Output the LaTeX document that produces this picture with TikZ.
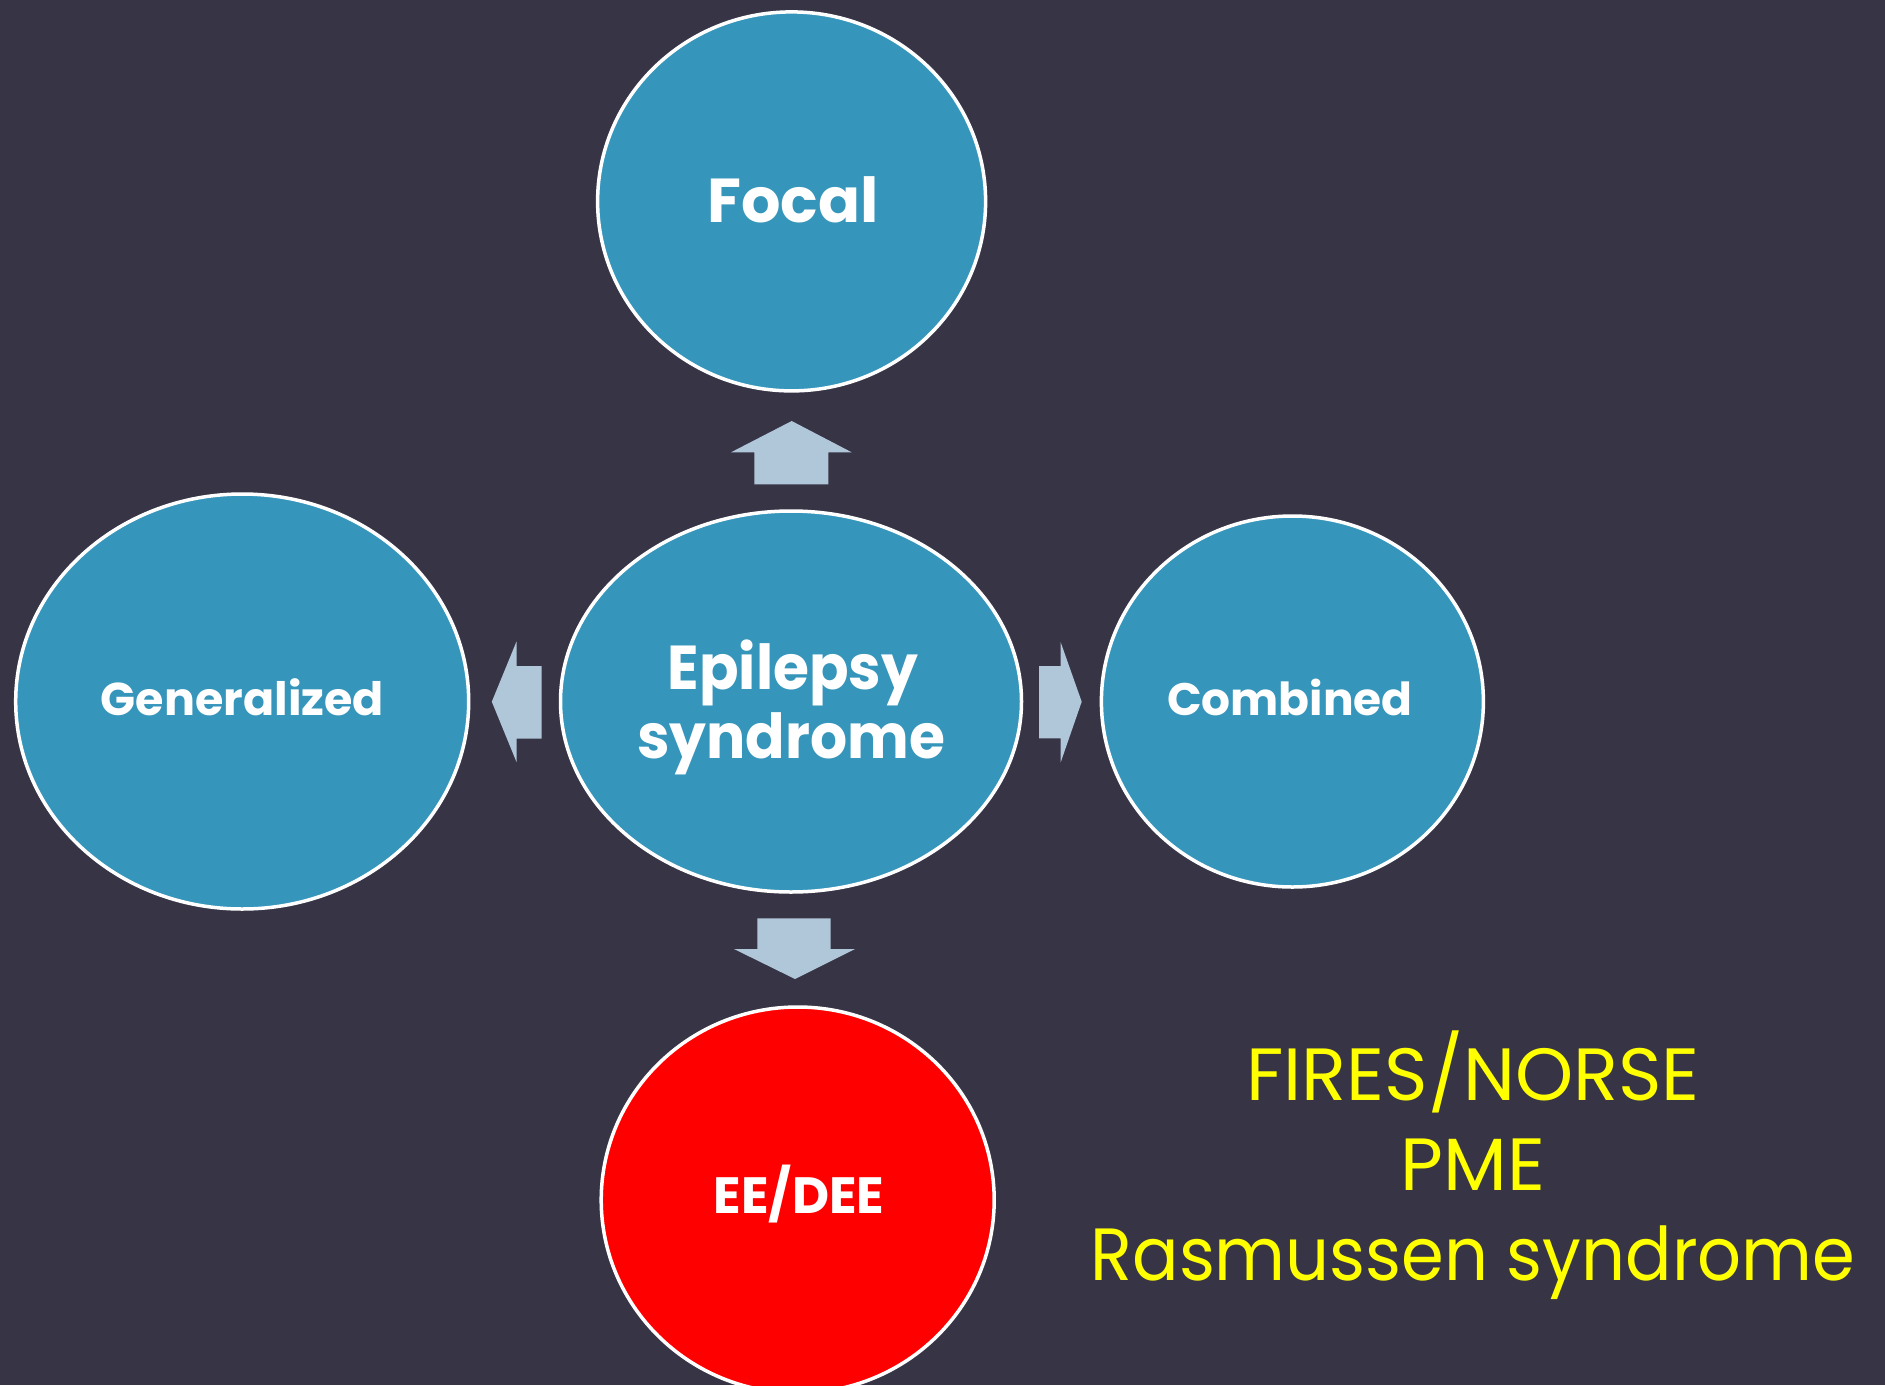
\documentclass[tikz,border=0pt]{standalone}
\usepackage{fontspec}
\setmainfont{Poppins}
\usetikzlibrary{shapes.geometric}
\definecolor{bgdark}{RGB}{55,52,70}
\definecolor{bubblefill}{RGB}{54,149,187}
\definecolor{arrowfill}{RGB}{175,199,217}
\definecolor{hotred}{RGB}{255,0,0}
\definecolor{noteyellow}{RGB}{255,255,0}
\tikzset{
  bubble/.style={ellipse, draw=white, line width=3.5pt, fill=bubblefill, inner sep=0pt},
  blockarrow/.style={fill=arrowfill, draw=none},
  lbl/.style={anchor=base, text=white, inner sep=0pt, font=\bfseries},
  note/.style={anchor=base, text=noteyellow, inner sep=0pt, font=\fontsize{74}{78}\selectfont},
}
\begin{document}
\begin{tikzpicture}[x=1pt, y=-1pt]
  % canvas
  \fill[bgdark] (0,0) rectangle (1885,1385);
  \useasboundingbox (0,0) rectangle (1885,1385);

  % bubbles
  \node[bubble, minimum width=388pt, minimum height=379pt] (focal) at (791.6,201.4) {};
  \node[bubble, minimum width=461pt, minimum height=381pt] (epi) at (791,701.5) {};
  \node[bubble, minimum width=453pt, minimum height=415pt] (gen) at (242.2,701.5) {};
  \node[bubble, minimum width=382pt, minimum height=371pt] (comb) at (1292.4,701.5) {};
  \node[bubble, fill=hotred, minimum width=393pt, minimum height=386pt] (ee) at (797.7,1200) {};

  % bubble labels
  \node[lbl, font=\bfseries\fontsize{62}{66}\selectfont] (focaltxt) at (793,222.3) {Focal};
  \node[lbl, font=\bfseries\fontsize{62}{66}\selectfont, xscale=0.94] (epitxtA) at (793,689) {Epilepsy};
  \node[lbl, font=\bfseries\fontsize{62}{66}\selectfont, xscale=0.94] (epitxtB) at (791,758.3) {syndrome};
  \node[lbl, font=\bfseries\fontsize{46}{50}\selectfont] (gentxt) at (242.5,715) {Generalized};
  \node[lbl, font=\bfseries\fontsize{45.5}{50}\selectfont] (combtxt) at (1290,715) {Combined};
  \node[lbl, font=\bfseries\fontsize{51}{54}\selectfont] (eetxt) at (799,1213) {EE/DEE};

  % block arrows from the centre bubble
  \fill[blockarrow] (754.3,484.3) -- (754.3,452.3) -- (731,452.3) -- (791.7,421)
    -- (851.7,452.3) -- (828.3,452.3) -- (828.3,484.3) -- cycle;
  \fill[blockarrow] (757.3,918.3) -- (830.7,918.3) -- (830.7,949) -- (855,949)
    -- (795,979) -- (734,949) -- (757.3,949) -- cycle;
  \fill[blockarrow] (541.5,666) -- (541.5,738.5) -- (516.5,738.5) -- (516.5,762)
    -- (491.8,701.7) -- (516.5,641.5) -- (516.5,666) -- cycle;
  \fill[blockarrow] (1039,666) -- (1060.7,666) -- (1060.7,642.3) -- (1081.7,701.7)
    -- (1060.7,762.3) -- (1060.7,738.3) -- (1039,738.3) -- cycle;

  % side notes
  \node[note] (n1) at (1473,1100.7) {FIRES/NORSE};
  \node[note] (n2) at (1473,1190) {PME};
  \node[note, xscale=0.93] (n3) at (1473,1280) {Rasmussen syndrome};
\end{tikzpicture}
\end{document}
